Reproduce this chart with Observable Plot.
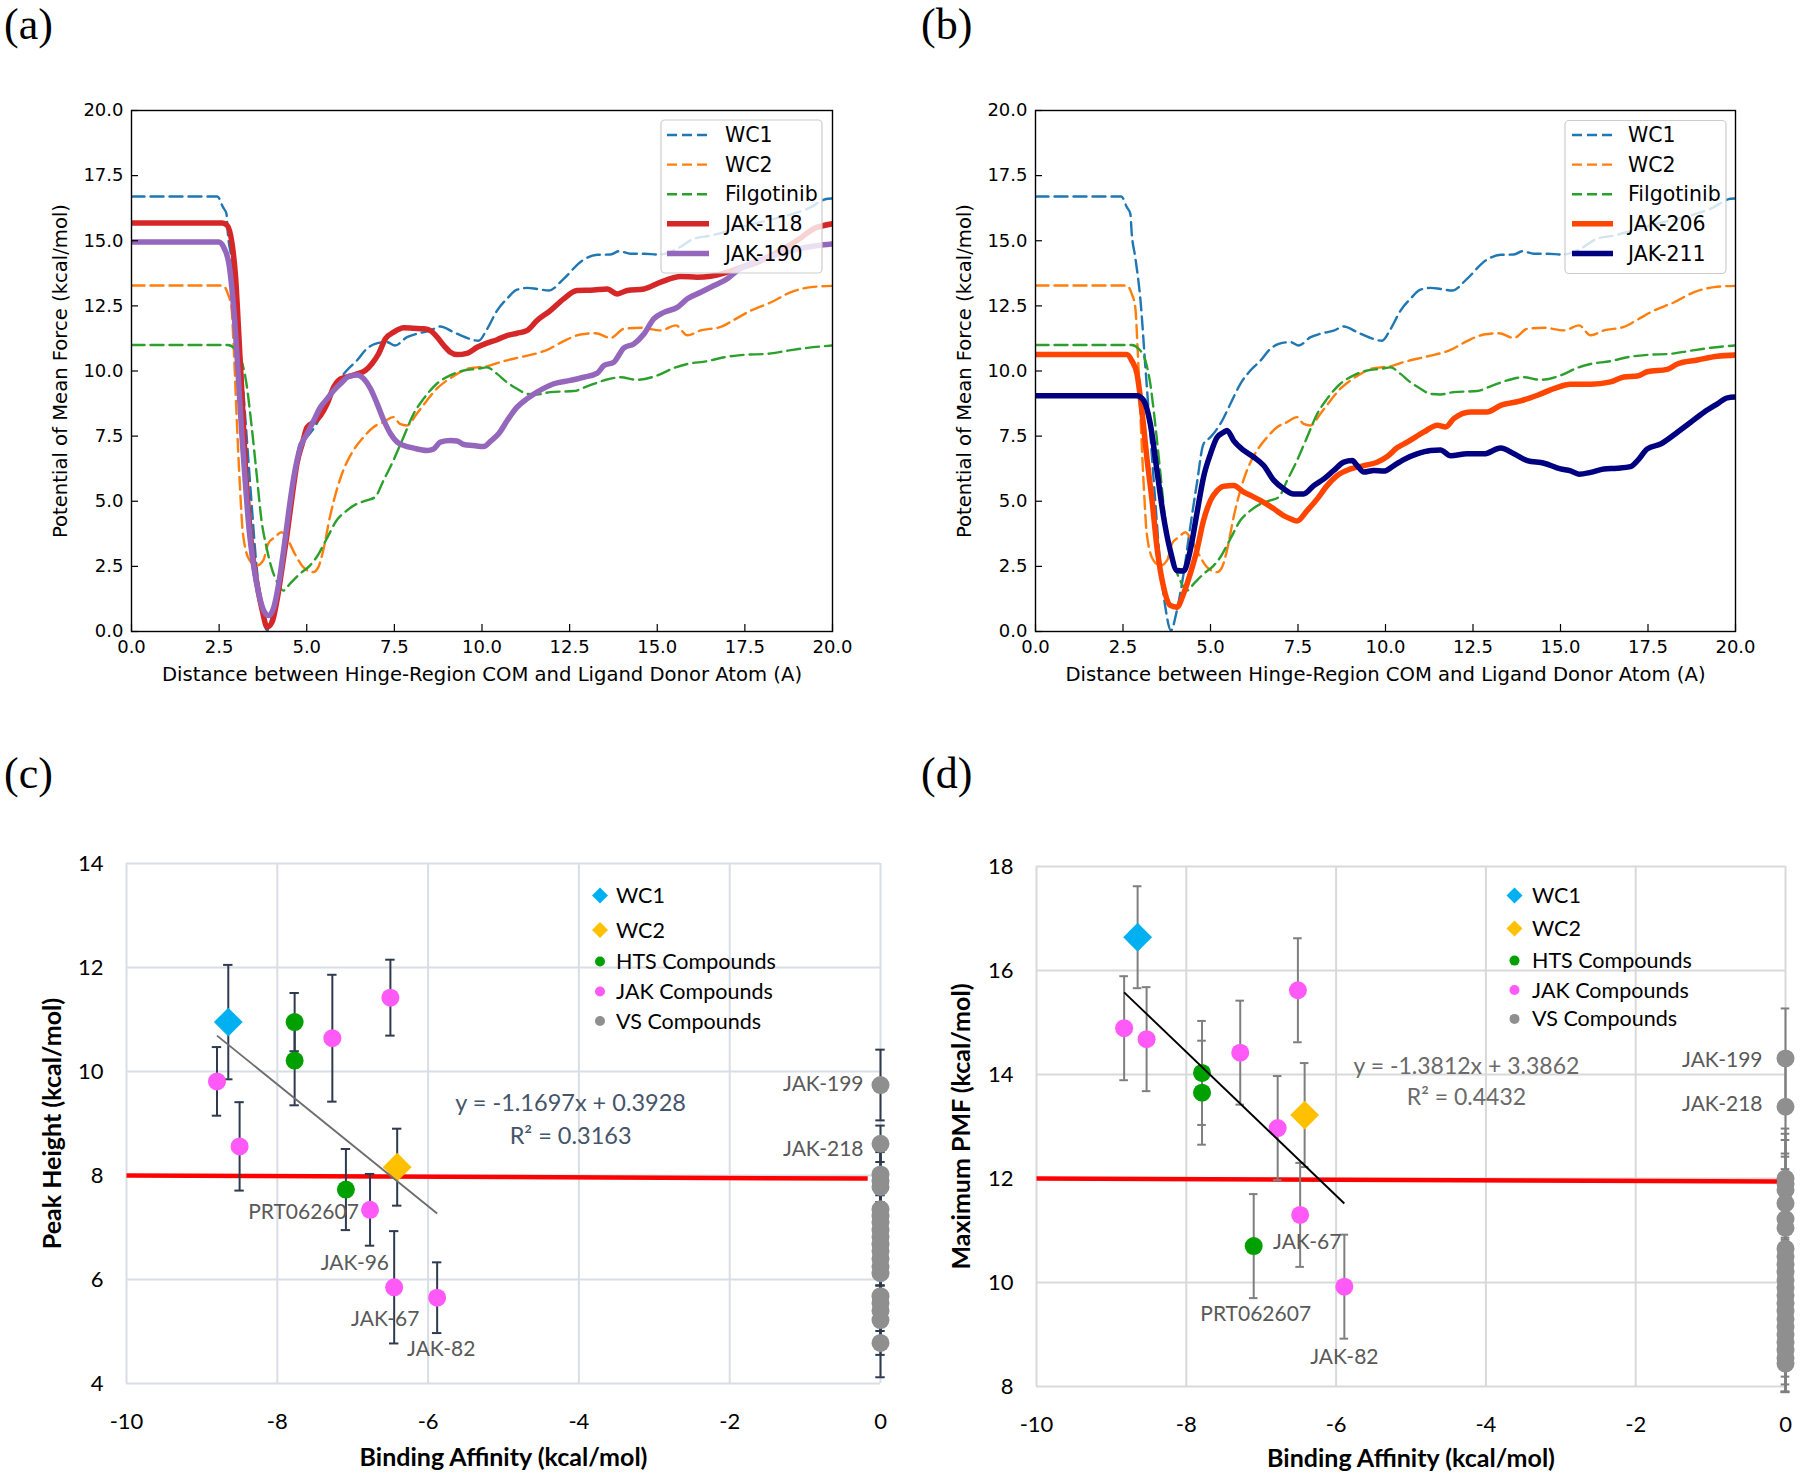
<!DOCTYPE html>
<html><head><meta charset="utf-8">
<script src="https://cdn.jsdelivr.net/npm/d3@7"></script>
<script src="https://cdn.jsdelivr.net/npm/@observablehq/plot@0.6"></script>
<style>
body{margin:0;background:#fff;}
#root{position:relative;width:1800px;height:1477px;background:#fff;overflow:hidden}
.panel{position:absolute}
.letter{position:absolute;font-family:"Liberation Serif","Times New Roman",serif;font-size:44px;line-height:44px;color:#000}
</style></head><body>
<div id="root">
  <div id="pa" class="panel" style="left:0px;top:0px"></div>
  <div id="pb" class="panel" style="left:900px;top:0px"></div>
  <div id="pc" class="panel" style="left:0px;top:740px"></div>
  <div id="pd" class="panel" style="left:900px;top:740px"></div>
  <div class="letter" style="left:4px;top:3px">(a)</div>
  <div class="letter" style="left:921px;top:3px">(b)</div>
  <div class="letter" style="left:4px;top:752px">(c)</div>
  <div class="letter" style="left:921px;top:752px">(d)</div>
</div>
<script>
// ---------------- PMF curves (x: distance, y: PMF) ----------------
const wc1 = [[0,16.7],[2.45,16.7],[2.61,16.29],[2.71,16.03],[2.75,15.27],[2.85,14.37],[3.0,12.7],[3.14,10.15],[3.28,7.59],[3.42,5.03],[3.57,2.47],[3.71,0.93],[3.87,0.04],[4.04,0.81],[4.23,2.21],[4.42,4.0],[4.61,5.67],[4.8,7.2],[5.0,7.46],[5.28,7.97],[5.57,8.74],[5.85,9.5],[6.14,10.02],[6.43,10.4],[6.71,10.85],[6.95,11.04],[7.28,11.11],[7.52,10.98],[7.86,11.3],[8.14,11.43],[8.52,11.55],[8.81,11.71],[9.19,11.49],[9.57,11.27],[9.9,11.16],[10.14,11.6],[10.43,12.32],[10.71,12.77],[11.0,13.12],[11.29,13.19],[11.57,13.15],[11.91,13.09],[12.33,13.54],[12.86,14.24],[13.29,14.46],[13.67,14.47],[13.91,14.6],[14.24,14.5],[14.62,14.5],[15.05,14.47],[15.48,14.63],[16.05,15.08],[16.53,15.2],[17.0,15.37],[17.57,15.59],[18.15,15.78],[18.72,15.97],[19.29,16.23],[19.86,16.61],[20,16.62]];
const wc2 = [[0,13.28],[2.61,13.28],[2.75,12.96],[2.85,12.45],[2.92,10.79],[3.0,8.23],[3.09,5.67],[3.18,3.75],[3.37,2.73],[3.57,2.53],[3.76,2.73],[3.9,3.37],[4.09,3.62],[4.28,3.81],[4.47,3.49],[4.66,2.98],[4.9,2.47],[5.19,2.28],[5.33,2.47],[5.47,3.11],[5.66,4.39],[5.85,5.41],[6.04,6.18],[6.33,6.95],[6.62,7.46],[6.9,7.84],[7.19,8.04],[7.47,8.23],[7.66,7.97],[7.86,7.91],[8.14,8.36],[8.43,8.87],[8.71,9.32],[9.0,9.64],[9.29,9.89],[9.57,10.08],[9.86,10.14],[10.14,10.18],[10.52,10.34],[10.9,10.47],[11.29,10.59],[11.67,10.72],[11.86,10.81],[12.33,11.15],[12.81,11.4],[13.24,11.45],[13.67,11.27],[14.05,11.62],[14.53,11.66],[15.1,11.56],[15.53,11.75],[15.86,11.37],[16.24,11.56],[16.81,11.69],[17.2,11.97],[17.67,12.32],[18.25,12.64],[18.82,13.03],[19.39,13.22],[20,13.27]];
const filgotinib = [[0,11.0],[2.75,11.0],[2.95,10.85],[3.14,10.4],[3.28,9.51],[3.42,7.97],[3.57,6.05],[3.71,4.26],[3.85,3.24],[3.99,2.47],[4.18,1.83],[4.33,1.57],[4.52,1.83],[4.8,2.21],[5.09,2.53],[5.28,2.85],[5.57,3.56],[5.85,4.26],[6.14,4.64],[6.43,4.9],[6.71,5.03],[6.95,5.16],[7.19,5.8],[7.47,6.56],[7.76,7.46],[8.05,8.36],[8.33,8.93],[8.71,9.51],[9.09,9.83],[9.48,10.02],[9.86,10.08],[10.14,10.14],[10.43,9.89],[10.71,9.57],[11.0,9.32],[11.29,9.12],[11.57,9.1],[11.95,9.19],[12.62,9.23],[13.0,9.41],[13.48,9.64],[13.95,9.76],[14.43,9.66],[15.0,9.83],[15.48,10.12],[15.86,10.27],[16.43,10.38],[16.91,10.53],[17.48,10.62],[18.15,10.66],[18.72,10.78],[19.29,10.89],[20,10.98]];
const jak118 = [[0,15.68],[2.59,15.68],[2.73,15.59],[2.87,14.88],[2.97,13.6],[3.06,11.43],[3.16,8.87],[3.25,6.31],[3.35,4.39],[3.44,3.11],[3.58,1.83],[3.73,0.81],[3.87,0.17],[4.01,0.36],[4.15,1.19],[4.3,2.47],[4.44,3.75],[4.58,5.16],[4.72,6.44],[4.87,7.2],[5.01,7.84],[5.2,8.04],[5.39,8.29],[5.58,8.74],[5.77,9.38],[5.96,9.7],[6.2,9.79],[6.44,9.89],[6.67,10.02],[6.86,10.28],[7.05,10.66],[7.24,11.23],[7.48,11.49],[7.77,11.66],[8.05,11.64],[8.34,11.62],[8.53,11.55],[8.72,11.3],[8.91,10.98],[9.1,10.72],[9.29,10.63],[9.57,10.68],[9.86,10.91],[10.14,11.07],[10.43,11.2],[10.71,11.36],[11.0,11.45],[11.29,11.56],[11.57,11.94],[11.95,12.32],[12.33,12.77],[12.71,13.09],[13.19,13.11],[13.57,13.15],[13.86,12.96],[14.14,13.09],[14.62,13.15],[15.1,13.41],[15.67,13.63],[16.14,13.6],[16.52,13.64],[16.91,13.76],[17.29,13.93],[17.86,14.18],[18.43,14.57],[19.0,15.02],[19.48,15.47],[20,15.65]];
const jak190 = [[0,14.95],[2.49,14.95],[2.63,14.75],[2.78,14.11],[2.87,13.09],[2.97,11.43],[3.06,9.51],[3.16,7.33],[3.25,5.67],[3.35,4.0],[3.49,2.47],[3.63,1.45],[3.77,0.81],[3.92,0.61],[4.06,0.93],[4.2,1.83],[4.34,3.11],[4.49,4.64],[4.63,5.92],[4.82,7.08],[5.01,7.59],[5.2,8.1],[5.39,8.61],[5.58,8.93],[5.77,9.25],[5.96,9.51],[6.2,9.79],[6.44,9.85],[6.63,9.7],[6.82,9.32],[7.01,8.74],[7.2,8.1],[7.39,7.59],[7.58,7.27],[7.77,7.14],[8.05,7.04],[8.43,6.95],[8.62,7.01],[8.81,7.27],[9.1,7.33],[9.29,7.31],[9.48,7.18],[9.76,7.14],[10.05,7.1],[10.24,7.3],[10.48,7.6],[10.72,8.1],[11.0,8.61],[11.28,8.93],[11.57,9.19],[12.05,9.51],[12.52,9.64],[12.9,9.76],[13.29,9.92],[13.48,10.21],[13.76,10.34],[14.05,10.89],[14.33,11.04],[14.62,11.42],[14.9,12.0],[15.19,12.25],[15.57,12.44],[15.86,12.77],[16.24,13.02],[16.62,13.28],[17.0,13.54],[17.29,13.86],[17.76,14.18],[18.24,14.37],[18.71,14.57],[19.19,14.73],[19.57,14.82],[20,14.88]];
const jak206 = [[0,10.63],[2.61,10.63],[2.75,10.4],[2.9,9.89],[3.04,8.48],[3.18,6.69],[3.33,5.03],[3.47,3.24],[3.66,1.7],[3.85,1.0],[4.04,0.93],[4.23,1.45],[4.42,2.21],[4.61,3.11],[4.8,4.26],[5.0,5.03],[5.19,5.41],[5.38,5.58],[5.66,5.6],[5.95,5.35],[6.24,5.16],[6.52,4.96],[6.81,4.71],[7.09,4.45],[7.28,4.33],[7.47,4.24],[7.76,4.64],[8.05,5.09],[8.33,5.6],[8.62,5.99],[9.0,6.24],[9.38,6.37],[9.76,6.5],[10.05,6.72],[10.33,7.05],[10.62,7.27],[11.1,7.66],[11.48,7.92],[11.72,7.85],[11.95,8.17],[12.43,8.43],[12.9,8.43],[13.29,8.68],[13.86,8.85],[14.34,9.07],[14.81,9.32],[15.29,9.49],[15.86,9.49],[16.43,9.58],[16.81,9.77],[17.2,9.81],[17.48,9.97],[18.05,10.06],[18.34,10.27],[18.91,10.42],[19.48,10.57],[20,10.61]];
const jak211 = [[0,9.05],[2.9,9.05],[3.09,8.87],[3.28,7.97],[3.47,6.18],[3.66,4.39],[3.85,3.11],[4.04,2.34],[4.23,2.32],[4.42,3.11],[4.61,4.52],[4.8,5.92],[5.0,6.82],[5.19,7.46],[5.38,7.65],[5.47,7.72],[5.66,7.33],[5.95,6.95],[6.24,6.69],[6.52,6.37],[6.81,5.8],[7.09,5.48],[7.38,5.28],[7.66,5.28],[7.95,5.6],[8.24,5.86],[8.52,6.18],[8.81,6.5],[9.05,6.56],[9.19,6.37],[9.38,6.12],[9.67,6.18],[9.95,6.16],[10.24,6.37],[10.52,6.6],[10.9,6.82],[11.29,6.95],[11.57,6.97],[11.86,6.75],[12.33,6.82],[12.81,6.82],[13.29,7.04],[13.67,6.82],[14.05,6.56],[14.53,6.46],[15.0,6.24],[15.29,6.17],[15.53,6.04],[15.86,6.11],[16.24,6.24],[16.62,6.27],[17.0,6.33],[17.2,6.56],[17.48,7.01],[17.86,7.2],[18.34,7.65],[18.72,8.03],[19.1,8.42],[19.48,8.74],[19.77,8.97],[20,9.0]];
const pmfTicks = [0,2.5,5,7.5,10,12.5,15,17.5,20];
const pmfXTitle = "Distance between Hinge-Region COM and Ligand Donor Atom (A)";
const pmfYTitle = "Potential of Mean Force (kcal/mol)";

// ---------------- Scatter (c): Peak height vs binding affinity ----------------
const cWC1 = [{x:-8.65, y:10.95, e:1.10}];
const cWC2 = [{x:-6.41, y:8.16, e:0.74}];
const cHTS = [{x:-7.77, y:10.95, e:0.56},{x:-7.77, y:10.21, e:0.86},{x:-7.09, y:7.73, e:0.78}];
const cJAK = [{x:-8.80, y:9.81, e:0.66},{x:-8.50, y:8.56, e:0.85},{x:-7.27, y:10.64, e:1.22},{x:-6.50, y:11.42, e:0.73},{x:-6.77, y:7.34, e:0.69},{x:-6.45, y:5.85, e:1.08},{x:-5.88, y:5.65, e:0.68}];
const cVSy = [9.74,8.61,8.02,7.90,7.78,7.35,7.22,7.10,6.95,6.82,6.68,6.55,6.40,6.25,6.12,5.68,5.55,5.40,5.22,4.78];
const cVSe = [0.68,0.35,0.67,0.67,0.67,0.67,0.67,0.67,0.67,0.67,0.67,0.67,0.67,0.67,0.67,0.67,0.67,0.67,0.67,0.66];
const cLabels = [{name:"PRT062607", x:-7.09, y:7.73},{name:"JAK-96", x:-6.77, y:7.34},{name:"JAK-67", x:-6.45, y:5.85},{name:"JAK-82", x:-5.88, y:5.65},{name:"JAK-199", x:0, y:9.74},{name:"JAK-218", x:0, y:8.61}];
const cTrend = [{x1:-8.80, y1:10.69, x2:-5.88, y2:7.27}];
const cThreshold = [{x1:-10, y1:8.0, x2:-0.17, y2:7.94}];
const cEquation = [{text:"y = -1.1697x + 0.3928", x:-4.11, y:9.39},{text:"R² = 0.3163", x:-4.11, y:8.75}];
const cXTicks = [-10,-8,-6,-4,-2,0];
const cYTicks = [4,6,8,10,12,14];

// ---------------- Scatter (d): Maximum PMF vs binding affinity ----------------
const dWC1 = [{x:-8.65, y:16.64, e:0.98}];
const dWC2 = [{x:-6.42, y:13.22, e:1.0}];
const dHTS = [{x:-7.79, y:14.03, e:1.0},{x:-7.79, y:13.65, e:1.0},{x:-7.10, y:10.70, e:1.0}];
const dJAK = [{x:-8.83, y:14.89, e:1.0},{x:-8.53, y:14.68, e:1.0},{x:-7.28, y:14.42, e:1.0},{x:-6.51, y:15.62, e:1.0},{x:-6.78, y:12.97, e:1.0},{x:-6.48, y:11.30, e:1.0},{x:-5.89, y:9.92, e:1.0}];
const dVSy = [14.31,13.38,12.0,11.9,11.78,11.52,11.22,11.05,10.65,10.5,10.35,10.2,10.05,9.9,9.75,9.6,9.45,9.3,9.15,9.0,8.85,8.7,8.55,8.44];
const dVSe = [0.96,0.96,0.96,0.96,0.96,0.96,0.96,0.96,0.96,0.96,0.96,0.96,0.96,0.96,0.96,0.96,0.96,0.96,0.96,0.96,0.95,0.8,0.65,0.55];
const dLabels = [{name:"JAK-67", x:-6.48, y:11.30},{name:"PRT062607", x:-7.10, y:10.70},{name:"JAK-82", x:-5.89, y:9.92},{name:"JAK-199", x:0, y:14.31},{name:"JAK-218", x:0, y:13.38}];
const dTrend = [{x1:-8.83, y1:15.58, x2:-5.89, y2:11.52}];
const dThreshold = [{x1:-10, y1:12.0, x2:-0.1, y2:11.94}];
const dEquation = [{text:"y = -1.3812x + 3.3862", x:-4.26, y:14.16},{text:"R² = 0.4432", x:-4.26, y:13.55}];
const dXTicks = [-10,-8,-6,-4,-2,0];
const dYTicks = [8,10,12,14,16,18];

const legendNamesScatter = ["WC1","WC2","HTS Compounds","JAK Compounds","VS Compounds"];

// ---------------- styles ----------------
const COL = {wc1:"#1f77b4", wc2:"#ff7f0e", filg:"#2ca02c", j118:"#d62728", j190:"#9467bd", j206:"#ff4500", j211:"#000080"};
const SC = {WC1:"#00b0f0", WC2:"#ffc000", HTS:"#00a000", JAK:"#ff59f8", VS:"#8f8f8f"};
const DASH_W = 2.4, DASH = "13,6", SOLID_W = 5.5;

function pmfPanel(series, margins) {
  const marks = series.map(s => Plot.line(s.data, {
    x: d => d[0], y: d => d[1], stroke: s.color,
    strokeWidth: s.dashed ? DASH_W : SOLID_W,
    strokeDasharray: s.dashed ? DASH : null,
    curve: "monotone-x", clip: true
  }));
  return Plot.plot({
    width: 900, height: 700,
    marginLeft: margins.left, marginRight: margins.right, marginTop: 110, marginBottom: 69,
    x: {domain: [0, 20]}, y: {domain: [0, 20]},
    style: {fontFamily: "DejaVu Sans", fontSize: "18px", color: "#000", background: "#fff"},
    marks: [
      ...marks,
      Plot.frame({stroke: "#000", strokeWidth: 1.4}),
      Plot.axisX(pmfTicks, {tickSize: -7, tickPadding: 15.5, tickFormat: d3.format(".1f"), label: null, strokeWidth: 1.2}),
      Plot.axisY(pmfTicks, {tickSize: -7, tickPadding: 15, tickFormat: d3.format(".1f"), label: null, strokeWidth: 1.2}),
      Plot.text([pmfXTitle], {text: d => d, frameAnchor: "bottom", dy: 49, fontSize: 19.6, textAnchor: "middle"}),
      Plot.text([pmfYTitle], {text: d => d, frameAnchor: "left", dx: -71, rotate: -90, fontSize: 19.6, textAnchor: "middle"})
    ]
  });
}

function addMplLegend(svg, box, items) {
  const g = d3.select(svg).append("g");
  g.append("rect").attr("x", box.x).attr("y", box.y).attr("width", box.w).attr("height", box.h)
    .attr("rx", 4).attr("fill", "#fff").attr("fill-opacity", 0.8).attr("stroke", "#cccccc").attr("stroke-width", 1.2);
  items.forEach((it, i) => {
    const y = box.row0 + i * box.step;
    g.append("line").attr("x1", box.lx1).attr("x2", box.lx2).attr("y1", y).attr("y2", y)
      .attr("stroke", it.color).attr("stroke-width", it.dashed ? DASH_W : SOLID_W)
      .attr("stroke-dasharray", it.dashed ? "10,5" : null);
    g.append("text").attr("x", box.tx).attr("y", y).attr("dy", "0.35em").attr("text-anchor", "start")
      .attr("font-family", "DejaVu Sans").attr("font-size", 20.5).attr("fill", "#000").text(it.name);
  });
}

function scatterPanel(cfg) {
  const vs = cfg.vsY.map((y, i) => ({x: 0, y, e: cfg.vsE[i]}));
  const groups = [
    {data: vs, fill: SC.VS, symbol: "circle", r: 9},
    {data: cfg.hts, fill: SC.HTS, symbol: "circle", r: 9},
    {data: cfg.jak, fill: SC.JAK, symbol: "circle", r: 9},
    {data: cfg.wc1, fill: SC.WC1, symbol: "diamond2", r: 13},
    {data: cfg.wc2, fill: SC.WC2, symbol: "diamond2", r: 13}
  ];
  const all = groups.flatMap(g => g.data);
  const errMarks = [
    Plot.ruleX(all, {x: "x", y1: d => d.y - d.e, y2: d => d.y + d.e, stroke: cfg.errColor, strokeWidth: 2}),
    Plot.ruleY(all, {y: d => d.y + d.e, x1: "x", x2: "x", insetLeft: -cfg.cap, insetRight: -cfg.cap, stroke: cfg.errColor, strokeWidth: 2}),
    Plot.ruleY(all, {y: d => d.y - d.e, x1: "x", x2: "x", insetLeft: -cfg.cap, insetRight: -cfg.cap, stroke: cfg.errColor, strokeWidth: 2})
  ];
  const dotMarks = groups.map(g => Plot.dot(g.data, {x: "x", y: "y", fill: g.fill, r: g.r, symbol: g.symbol}));
  const labelMarks = cfg.labels.map(l => {
    const o = cfg.labelOffsets[l.name];
    return Plot.text([l], {x: "x", y: "y", text: "name", dx: o[0], dy: o[1], textAnchor: o[2], fill: "#595959", fontSize: 21});
  });
  return Plot.plot({
    width: 900, height: 737,
    marginLeft: cfg.ml, marginRight: cfg.mr, marginTop: cfg.mt, marginBottom: cfg.mb,
    x: {domain: [-10, 0]}, y: {domain: cfg.yDomain},
    style: {fontFamily: "Lato", fontSize: "22px", color: "#000", background: "#fff"},
    marks: [
      Plot.gridX(cfg.xTicks, {stroke: cfg.gridColor, strokeOpacity: 1, strokeWidth: 2}),
      Plot.gridY(cfg.yTicks, {stroke: cfg.gridColor, strokeOpacity: 1, strokeWidth: 2}),
      Plot.axisX(cfg.xTicks, {tickSize: 0, tickPadding: 30, tickFormat: d => String(d), label: null, fontSize: 22}),
      Plot.axisY(cfg.yTicks, {tickSize: 0, tickPadding: 23, tickFormat: d => String(d), label: null, fontSize: 22}),
      Plot.link(cfg.threshold, {x1: "x1", y1: "y1", x2: "x2", y2: "y2", stroke: "#ff0000", strokeWidth: 4.5}),
      ...errMarks,
      ...dotMarks,
      Plot.link(cfg.trend, {x1: "x1", y1: "y1", x2: "x2", y2: "y2", stroke: cfg.trendColor, strokeWidth: 1.9}),
      ...labelMarks,
      Plot.text(cfg.equation, {x: "x", y: "y", text: "text", fill: cfg.eqColor, fontSize: cfg.eqSize}),
      Plot.text(["Binding Affinity (kcal/mol)"], {text: d => d, frameAnchor: "bottom", dy: cfg.xTitleDy, fontWeight: "bold", fontSize: 25, textAnchor: "middle"}),
      Plot.text([cfg.yTitle], {text: d => d, frameAnchor: "left", dx: -cfg.yTitleDx, rotate: -90, fontWeight: "bold", fontSize: 25, textAnchor: "middle"})
    ]
  });
}

function addXlLegend(svg, lg) {
  const g = d3.select(svg).append("g");
  const styles = [
    {fill: SC.WC1, diamond: true}, {fill: SC.WC2, diamond: true},
    {fill: SC.HTS}, {fill: SC.JAK}, {fill: SC.VS}
  ];
  legendNamesScatter.forEach((name, i) => {
    const y = lg.rows[i], s = styles[i];
    if (s.diamond) {
      g.append("path").attr("d", d3.symbol(d3.symbolDiamond2, 163)()).attr("transform", `translate(${lg.mx},${y})`).attr("fill", s.fill);
    } else {
      g.append("circle").attr("cx", lg.mx).attr("cy", y).attr("r", 5).attr("fill", s.fill);
    }
    g.append("text").attr("x", lg.tx).attr("y", y).attr("dy", "0.35em").attr("text-anchor", "start")
      .attr("font-family", "Lato").attr("font-size", 21.5).attr("fill", "#000").text(name);
  });
}

// ---- panel a
const svgA = pmfPanel([
  {data: wc1, color: COL.wc1, dashed: true},
  {data: wc2, color: COL.wc2, dashed: true},
  {data: filgotinib, color: COL.filg, dashed: true},
  {data: jak118, color: COL.j118},
  {data: jak190, color: COL.j190}
], {left: 131, right: 68});
addMplLegend(svgA, {x: 661, y: 120, w: 161, h: 153, row0: 135, step: 29.6, lx1: 667, lx2: 709, tx: 725}, [
  {name: "WC1", color: COL.wc1, dashed: true}, {name: "WC2", color: COL.wc2, dashed: true},
  {name: "Filgotinib", color: COL.filg, dashed: true}, {name: "JAK-118", color: COL.j118}, {name: "JAK-190", color: COL.j190}
]);
document.getElementById("pa").appendChild(svgA);

// ---- panel b
const svgB = pmfPanel([
  {data: wc1, color: COL.wc1, dashed: true},
  {data: wc2, color: COL.wc2, dashed: true},
  {data: filgotinib, color: COL.filg, dashed: true},
  {data: jak206, color: COL.j206},
  {data: jak211, color: COL.j211}
], {left: 135, right: 65});
addMplLegend(svgB, {x: 665, y: 120.5, w: 161, h: 153, row0: 135, step: 29.6, lx1: 672, lx2: 713, tx: 728}, [
  {name: "WC1", color: COL.wc1, dashed: true}, {name: "WC2", color: COL.wc2, dashed: true},
  {name: "Filgotinib", color: COL.filg, dashed: true}, {name: "JAK-206", color: COL.j206}, {name: "JAK-211", color: COL.j211}
]);
document.getElementById("pb").appendChild(svgB);

// ---- panel c
const svgC = scatterPanel({
  ml: 126, mr: 20, mt: 123, mb: 94, yDomain: [4, 14],
  xTicks: cXTicks, yTicks: cYTicks, gridColor: "#d9dee6",
  wc1: cWC1, wc2: cWC2, hts: cHTS, jak: cJAK, vsY: cVSy, vsE: cVSe,
  errColor: "#2e3a4e", cap: 4.7,
  threshold: cThreshold, trend: cTrend, trendColor: "#6e6e6e",
  labels: cLabels,
  labelOffsets: {"PRT062607": [13, 23, "end"], "JAK-96": [19, 53, "end"], "JAK-67": [-9, 32, "middle"], "JAK-82": [4, 52, "middle"], "JAK-199": [-17, -1, "end"], "JAK-218": [-17, 5, "end"]},
  equation: cEquation, eqColor: "#44546a", eqSize: 23.5,
  xTitleDy: 82, yTitle: "Peak Height (kcal/mol)", yTitleDx: 74
});
addXlLegend(svgC, {mx: 600, tx: 616, rows: [155.5, 190, 221.5, 251.5, 281]});
document.getElementById("pc").appendChild(svgC);

// ---- panel d
const svgD = scatterPanel({
  ml: 136, mr: 15, mt: 126, mb: 91, yDomain: [8, 18],
  xTicks: dXTicks, yTicks: dYTicks, gridColor: "#d9d9d9",
  wc1: dWC1, wc2: dWC2, hts: dHTS, jak: dJAK, vsY: dVSy, vsE: dVSe,
  errColor: "#7f7f7f", cap: 4.3,
  threshold: dThreshold, trend: dTrend, trendColor: "#000",
  labels: dLabels,
  labelOffsets: {"JAK-67": [7, 27, "middle"], "PRT062607": [2, 68, "middle"], "JAK-82": [0, 71, "middle"], "JAK-199": [-23, 2, "end"], "JAK-218": [-23, -2, "end"]},
  equation: dEquation, eqColor: "#6a6a6a", eqSize: 23,
  xTitleDy: 80, yTitle: "Maximum PMF (kcal/mol)", yTitleDx: 75
});
addXlLegend(svgD, {mx: 614.5, tx: 632, rows: [155.4, 188.5, 220.6, 250, 278.9]});
document.getElementById("pd").appendChild(svgD);
</script>
</body></html>
